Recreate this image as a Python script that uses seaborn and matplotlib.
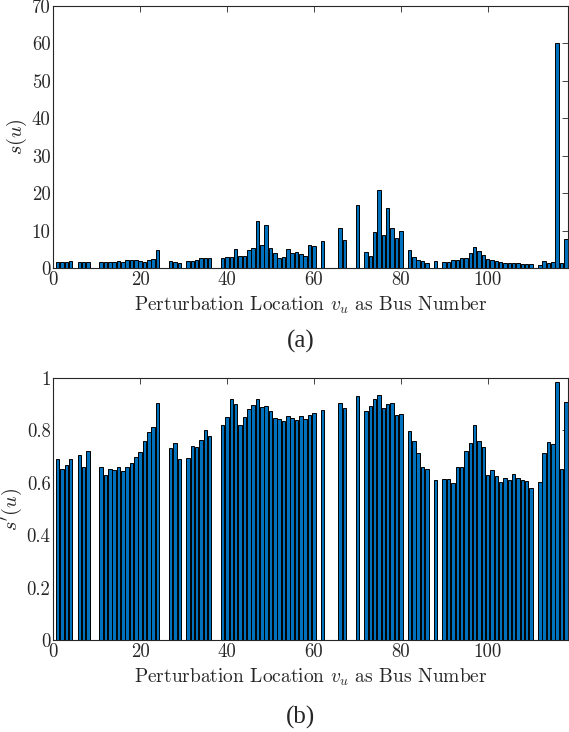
import numpy as np
import pandas as pd
import matplotlib
matplotlib.use('Agg')
import matplotlib.pyplot as plt
from matplotlib.ticker import FuncFormatter
import seaborn as sns

sns.set_style('white')
plt.rcParams['font.family'] = 'serif'
plt.rcParams['font.serif'] = ['cmr10', 'DejaVu Serif']
plt.rcParams['mathtext.fontset'] = 'cm'
plt.rcParams['axes.formatter.use_mathtext'] = True

# bus numbers that have a bar (the rest are empty)
buses = [1, 2, 3, 4, 6, 7, 8,
         11, 12, 13, 14, 15, 16, 17, 18, 19, 20, 21, 22, 23, 24,
         27, 28, 29, 31, 32, 33, 34, 35, 36,
         39, 40, 41, 42, 43, 44, 45, 46, 47, 48, 49, 50,
         51, 52, 53, 54, 55, 56, 57, 58, 59, 60,
         62, 66, 67, 70,
         72, 73, 74, 75, 76, 77, 78, 79, 80,
         82, 83, 84, 85, 86, 88,
         90, 91, 92, 93, 94, 95, 96, 97, 98, 99, 100,
         101, 102, 103, 104, 105, 106, 107, 108, 109, 110,
         112, 113, 114, 115, 116, 117, 118]

# (a) s(u)
s_u = [1.6, 1.6, 1.6, 1.9, 1.7, 1.7, 1.7,
       1.7, 1.6, 1.7, 1.7, 1.9, 1.7, 2.0, 2.0, 2.1, 1.8, 1.7, 2.0, 2.4, 4.9,
       1.8, 1.7, 1.4, 1.8, 1.8, 2.2, 2.8, 2.6, 2.8,
       2.6, 2.9, 2.9, 5.0, 3.1, 3.2, 4.8, 5.4, 12.6, 6.2, 11.6, 5.4,
       3.9, 2.6, 3.0, 5.1, 3.9, 4.2, 3.8, 3.3, 6.2, 6.0,
       7.1, 10.7, 7.6, 16.8,
       4.4, 3.3, 9.7, 20.9, 8.8, 15.9, 10.6, 8.1, 9.8,
       4.8, 2.9, 2.0, 1.9, 1.2, 1.8,
       1.6, 1.6, 2.1, 2.1, 2.6, 2.8, 3.9, 5.6, 4.5, 3.5, 2.4,
       2.0, 1.9, 1.6, 1.4, 1.4, 1.3, 1.2, 1.1, 1.1, 1.0,
       0.8, 1.9, 1.4, 1.5, 60.0, 1.4, 7.7]

# (b) s'(u)
s_prime = [0.691, 0.654, 0.669, 0.690, 0.707, 0.659, 0.723,
           0.659, 0.630, 0.654, 0.649, 0.660, 0.644, 0.659, 0.677, 0.697, 0.718, 0.758, 0.793, 0.813, 0.903,
           0.733, 0.751, 0.691, 0.693, 0.740, 0.738, 0.763, 0.800, 0.780,
           0.821, 0.851, 0.919, 0.901, 0.821, 0.851, 0.882, 0.898, 0.919, 0.888, 0.892, 0.873,
           0.849, 0.844, 0.835, 0.854, 0.847, 0.838, 0.854, 0.842, 0.859, 0.868,
           0.877, 0.903, 0.884, 0.930,
           0.874, 0.893, 0.921, 0.934, 0.885, 0.901, 0.903, 0.860, 0.863,
           0.799, 0.761, 0.712, 0.662, 0.653, 0.611,
           0.615, 0.615, 0.598, 0.660, 0.662, 0.721, 0.753, 0.819, 0.760, 0.735, 0.628,
           0.650, 0.626, 0.602, 0.618, 0.612, 0.632, 0.617, 0.609, 0.606, 0.579,
           0.602, 0.712, 0.756, 0.749, 0.985, 0.653, 0.907]

df = pd.DataFrame({'bus': buses, 's': s_u, 'sp': s_prime})

bar_color = '#0072BD'
xlabel = r'Perturbation Location $v_u$ as Bus Number'

fig = plt.figure(figsize=(5.69, 7.32), dpi=100)
ax1 = fig.add_axes([0.0937, 0.6339, 0.9038, 0.3580])
ax2 = fig.add_axes([0.0937, 0.1257, 0.9038, 0.3579])


def style_axis(ax):
    for sp in ax.spines.values():
        sp.set_color('#262626')
        sp.set_linewidth(0.8)
    ax.tick_params(direction='in', length=4, width=0.6, color='#262626',
                   top=True, right=True, labelsize=13.5, labelcolor='#262626',
                   pad=2)
    ax.set_xlim(0, 118.4)
    ax.set_xticks([0, 20, 40, 60, 80, 100])
    ax.xaxis.set_major_formatter(FuncFormatter(lambda v, p: '%g' % v))
    ax.yaxis.set_major_formatter(FuncFormatter(lambda v, p: '%g' % v))
    ax.set_xlabel(xlabel, fontsize=14, color='#262626', labelpad=4)


sns.barplot(data=df, x='bus', y='s', native_scale=True, color=bar_color,
            saturation=1, edgecolor='black', linewidth=0.7, ax=ax1)
ax1.set_ylim(0, 70)
ax1.set_yticks(np.arange(0, 71, 10))
style_axis(ax1)
ax1.set_ylabel(r'$s(u)$', fontsize=14.5, color='#262626', labelpad=2)

sns.barplot(data=df, x='bus', y='sp', native_scale=True, color=bar_color,
            saturation=1, edgecolor='black', linewidth=0.7, ax=ax2)
ax2.set_ylim(0, 1)
ax2.set_yticks(np.arange(0, 1.01, 0.2))
style_axis(ax2)
ax2.set_ylabel(r"$s'(u)$", fontsize=14.5, color='#262626', labelpad=2)

fig.text(0.528, 1 - 341 / 732, '(a)', ha='center', va='center',
         fontsize=18, family='Liberation Serif')
fig.text(0.528, 1 - 717 / 732, '(b)', ha='center', va='center',
         fontsize=18, family='Liberation Serif')

fig.savefig('out.png', dpi=100)
